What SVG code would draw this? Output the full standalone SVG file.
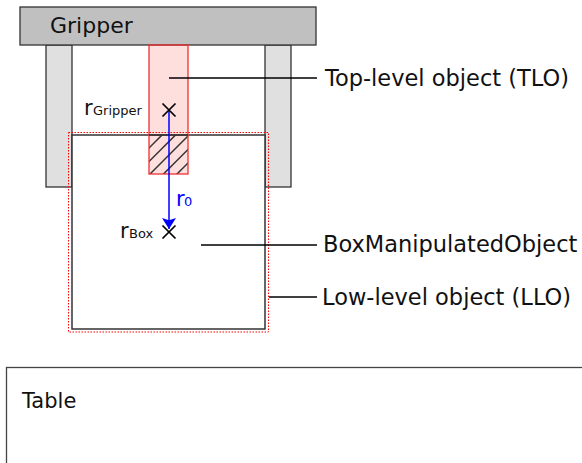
<svg xmlns="http://www.w3.org/2000/svg" width="582" height="463" viewBox="0 0 582 463">
<style>
text{font-family:"DejaVu Sans",sans-serif;fill:#111}
.lbl{font-size:22.5px}
.sub{font-size:13px}
.lead{stroke:#000;stroke-width:1.5;fill:none}
.xm{stroke:#000;stroke-width:1.7}
.h{stroke:#333;stroke-width:1.5}
</style>
<defs>
<clipPath id="hclip"><rect x="149" y="135" width="39" height="39"/></clipPath>
<marker id="arr" markerWidth="11" markerHeight="14" refX="10" refY="5" orient="auto" markerUnits="userSpaceOnUse" viewBox="0 0 10 10" preserveAspectRatio="none">
<path d="M0,0 L10,5 L0,10 L2,5 Z" fill="#0000ff"/>
</marker>
</defs>
<rect x="0" y="0" width="582" height="463" fill="#fff"/>
<g id="table">
<rect x="6.5" y="367.5" width="600" height="120" fill="#fff" stroke="#444" stroke-width="1.3"/>
<text x="22" y="408" style="font-size:21px">Table</text>
</g>
<g id="finger-left"><rect x="46" y="45" width="26" height="142" fill="#e0e0e0" stroke="#333" stroke-width="1.3"/></g>
<g id="finger-right"><rect x="265" y="45" width="26" height="142" fill="#e0e0e0" stroke="#333" stroke-width="1.3"/></g>
<g id="gripper">
<rect x="20" y="7" width="296" height="38" fill="#c0c0c0" stroke="#333" stroke-width="1.3"/>
<text x="50" y="33" style="font-size:22px">Gripper</text>
</g>
<g id="box">
<rect x="72" y="135" width="193" height="194" fill="#fff" stroke="#333" stroke-width="1.5"/>
</g>
<g id="llo"><rect x="68.5" y="132.5" width="200" height="199.5" fill="none" stroke="#f00" stroke-width="1" stroke-dasharray="1.5,1.5"/></g>
<g id="tlo">
<rect x="149" y="45" width="39" height="129" fill="rgba(255,0,0,0.13)"/>
<g clip-path="url(#hclip)">
<line class="h" x1="140" y1="157" x2="170" y2="127"/>
<line class="h" x1="140" y1="170.5" x2="190" y2="120.5"/>
<line class="h" x1="140" y1="184" x2="195" y2="129"/>
<line class="h" x1="140" y1="197.5" x2="200" y2="137.5"/>
<line class="h" x1="140" y1="211" x2="200" y2="151"/>
</g>
<rect x="149" y="45" width="39" height="129" fill="none" stroke="#f03030" stroke-width="1.3"/>
<line x1="149" y1="135" x2="188" y2="135" stroke="#333" stroke-width="1.5"/>
</g>
<g id="connectors">
<line class="lead" x1="169" y1="78" x2="317" y2="78"/>
<line class="lead" x1="201" y1="245" x2="317" y2="245"/>
<line class="lead" x1="269" y1="297" x2="317" y2="297"/>
<line x1="169" y1="110" x2="169" y2="229" stroke="#0000ff" stroke-width="1.5" marker-end="url(#arr)"/>
</g>
<g id="r-gripper">
<path class="xm" d="M162.5,103.5 L175.5,116.5 M175.5,103.5 L162.5,116.5"/>
<text x="84" y="115" style="font-size:21px">r</text><text class="sub" x="93" y="115">Gripper</text>
</g>
<g id="r-box">
<path class="xm" d="M162.5,225.5 L175.5,238.5 M175.5,225.5 L162.5,238.5"/>
<text x="120" y="238" style="font-size:21px">r</text><text class="sub" x="129" y="238">Box</text>
</g>
<g id="r0">
<text x="176" y="206" style="font-size:21px;fill:#0000ff">r</text><text class="sub" x="184" y="206" style="fill:#0000ff">0</text>
</g>
<g id="labels">
<text class="lbl" x="325" y="86">Top-level object (TLO)</text>
<text class="lbl" x="323" y="252">BoxManipulatedObject</text>
<text class="lbl" x="322" y="305">Low-level object (LLO)</text>
</g>
</svg>
